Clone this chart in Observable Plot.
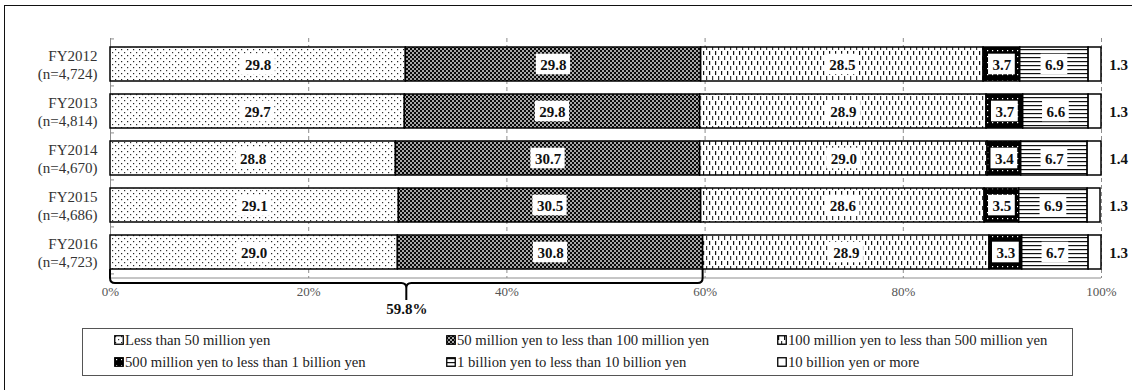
<!DOCTYPE html>
<html>
<head>
<meta charset="utf-8">
<script src="https://cdn.jsdelivr.net/npm/d3@7"></script>
<script src="https://cdn.jsdelivr.net/npm/@observablehq/plot@0.6"></script>
<style>
  html, body { margin: 0; padding: 0; background: #fff; overflow: hidden; }
  body { position: relative; width: 1132px; height: 390px; font-family: "Liberation Serif", "Times New Roman", serif; }
  #chart { position: absolute; left: 0; top: 0; }
  #frame { position: absolute; left: 4px; top: 5px; width: 1400px; height: 600px;
           border-top: 1.5px solid #111; border-left: 1.5px solid #111; pointer-events: none; }
  #legend { position: absolute; left: 82px; top: 328px; width: 989px; height: 46px;
            border: 1px solid #555; box-sizing: content-box; }
  .item { position: absolute; display: flex; align-items: center; font-size: 14.7px; color: #222;
          white-space: nowrap; line-height: 1; }
  .item svg { margin-right: 1px; }
</style>
</head>
<body>
<!-- fill patterns shared by the bars and the legend swatches -->
<svg width="0" height="0" style="position:absolute">
  <defs>
    <pattern id="pat-dots" width="6" height="6" patternUnits="userSpaceOnUse">
      <rect width="6" height="6" fill="#fff"/>
      <rect x="1" y="1" width="1.2" height="1.2" fill="#222"/>
      <rect x="4" y="4" width="1.2" height="1.2" fill="#333"/>
    </pattern>
    <pattern id="pat-check" width="4" height="4" patternUnits="userSpaceOnUse">
      <rect width="4" height="4" fill="#0a0a0a"/>
      <rect x="0.2" y="0.2" width="1.6" height="1.6" fill="#fff"/>
      <rect x="2.2" y="2.2" width="1.6" height="1.6" fill="#fff"/>
    </pattern>
    <pattern id="pat-vdash" width="6" height="10" patternUnits="userSpaceOnUse">
      <rect width="6" height="10" fill="#fff"/>
      <rect x="1" y="1" width="1.2" height="4" fill="#111"/>
      <rect x="4" y="6" width="1.2" height="4" fill="#333"/>
    </pattern>
    <pattern id="pat-blackdots" width="5" height="6" patternUnits="userSpaceOnUse">
      <rect width="5" height="6" fill="#000"/>
      <rect x="2" y="2" width="1.2" height="1.2" fill="#fff"/>
    </pattern>
    <pattern id="pat-hlines" width="6" height="4" patternUnits="userSpaceOnUse">
      <rect width="6" height="4" fill="#fff"/>
      <rect x="0" y="1" width="6" height="1.2" fill="#111"/>
    </pattern>
  </defs>
</svg>
<div id="chart"></div>
<div id="legend"></div>
<div id="frame"></div>
<script>
// Fiscal years and the number of responses in each survey
const years = ["FY2012", "FY2013", "FY2014", "FY2015", "FY2016"];
const sampleSizes = ["4,724", "4,814", "4,670", "4,686", "4,723"];

// Capital size bands (stack order, left to right)
const categories = [
  "Less than 50 million yen",
  "50 million yen to less than 100 million yen",
  "100 million yen to less than 500 million yen",
  "500 million yen to less than 1 billion yen",
  "1 billion yen to less than 10 billion yen",
  "10 billion yen or more"
];

// Share of companies (%) per band, one entry per fiscal year
const lessThan50M    = [29.8, 29.7, 28.8, 29.1, 29.0];
const from50Mto100M  = [29.8, 29.8, 30.7, 30.5, 30.8];
const from100Mto500M = [28.5, 28.9, 29.0, 28.6, 28.9];
const from500Mto1B   = [3.7, 3.7, 3.4, 3.5, 3.3];
const from1Bto10B    = [6.9, 6.6, 6.7, 6.9, 6.7];
const over10B        = [1.3, 1.3, 1.4, 1.3, 1.3];

// Axis ticks (%) and the bracketed FY2016 subtotal (first two bands)
const xTicks = [0, 20, 40, 60, 80, 100];
const bracketTotal = 59.8;

const seriesValues = [lessThan50M, from50Mto100M, from100Mto500M, from500Mto1B, from1Bto10B, over10B];
const patternFills = ["url(#pat-dots)", "url(#pat-check)", "url(#pat-vdash)",
                      "url(#pat-blackdots)", "url(#pat-hlines)", "#fff"];

const table = categories.flatMap((category, ci) =>
  years.map((year, yi) => ({year, category, value: seriesValues[ci][yi]})));
const lastCategory = categories[categories.length - 1];

const serif = "'Liberation Serif', 'Times New Roman', serif";
const width = 1132, height = 320;
const marginLeft = 110, marginRight = 31, marginTop = 38, marginBottom = 42;
const labelFont = `bold 15px ${serif}`;

// label positions: midpoint of each stacked segment, plus a white backing box
const ctx = document.createElement("canvas").getContext("2d");
ctx.font = labelFont;
const pxPerUnit = (width - marginLeft - marginRight) / 100;
const labels = [];
years.forEach((year, yi) => {
  let start = 0;
  categories.forEach((category, ci) => {
    const value = seriesValues[ci][yi];
    if (category !== lastCategory) {
      const text = value.toFixed(1);
      const half = (ctx.measureText(text).width + 8) / 2 / pxPerUnit;
      const mid = start + value / 2;
      labels.push({year, text, mid, x1: mid - half, x2: mid + half});
    }
    start += value;
  });
});

const plot = Plot.plot({
  width, height, marginLeft, marginRight, marginTop, marginBottom,
  style: {fontFamily: serif, background: "transparent", overflow: "visible"},
  x: {domain: [0, 100], label: null},
  y: {domain: years, range: [31.6, 284.5], padding: 0.28, axis: null},
  color: {type: "ordinal", domain: categories, range: patternFills},
  marks: [
    Plot.ruleX(xTicks.slice(1), {stroke: "#8c8c8c", strokeWidth: 1, strokeDasharray: "4,3"}),
    Plot.ruleX([0], {stroke: "#8c8c8c", strokeWidth: 1}),
    Plot.barX(table, {x: "value", y: "year", z: "category", fill: "category", stroke: "#000", strokeWidth: 1.5}),
    Plot.barX(labels, {x1: "x1", x2: "x2", y: "year", fill: "#fff", insetTop: 6.7, insetBottom: 6.7}),
    Plot.text(labels, {
      x: "mid", y: "year", text: "text", dy: 0.5,
      fontSize: 15, fontWeight: "bold", fill: "#111"
    }),
    Plot.text(table.filter(d => d.category === lastCategory), {
      x: () => 100, y: "year", dx: 17, dy: 0.5,
      text: d => d.value.toFixed(1),
      fontSize: 15, fontWeight: "bold", fill: "#111"
    }),
    Plot.text(years, {
      x: () => 0, y: d => d, dx: -13,
      text: (d, i) => `${d}\n(n=${sampleSizes[i]})`,
      textAnchor: "end", lineHeight: 1.2, fontSize: 15, fill: "#333"
    }),
    Plot.axisX({ticks: xTicks, tickFormat: d => d + "%", tickSize: 0, tickPadding: 8, fontSize: 13, color: "#555", label: null}),
    Plot.text([bracketTotal], {
      x: d => d / 2, frameAnchor: "bottom", dy: 35,
      text: d => d.toFixed(1) + "%",
      fontSize: 15, fontWeight: "bold", fill: "#111"
    })
  ]
});

document.getElementById("chart").appendChild(plot);

const svg = d3.select(plot);
const xs = plot.scale("x");
const ys = plot.scale("y");

// horizontal axis line
const axisY = height - marginBottom;
svg.append("line")
  .attr("x1", xs.apply(0)).attr("x2", xs.apply(100))
  .attr("y1", axisY).attr("y2", axisY)
  .attr("stroke", "#8c8c8c");

// small category ticks on the vertical axis
const step = ys.step;
years.concat([null]).forEach((year, i) => {
  const yy = (i < years.length ? ys.apply(year) : ys.apply(years[years.length - 1]) + step) - step * 0.28 / 2 - 1.5;
  svg.append("line")
    .attr("x1", xs.apply(0)).attr("x2", xs.apply(0) + 4)
    .attr("y1", yy).attr("y2", yy)
    .attr("stroke", "#8c8c8c");
});

// curly bracket under the first two FY2016 bands
const lastYear = years[years.length - 1];
const yb = ys.apply(lastYear) + ys.bandwidth;
const yh = 283, yt = 300;
const bx0 = xs.apply(0), bx1 = xs.apply(bracketTotal), tip = xs.apply(bracketTotal / 2);
const r = 5;
svg.append("path")
  .attr("fill", "none").attr("stroke", "#000").attr("stroke-width", 2)
  .attr("d", `M${bx0},${yb} L${bx0},${yh - r} Q${bx0},${yh} ${bx0 + r},${yh} L${tip - r},${yh}
              Q${tip},${yh} ${tip},${yh + r} L${tip},${yt}
              M${tip},${yh + r} Q${tip},${yh} ${tip + r},${yh} L${bx1 - r},${yh}
              Q${bx1},${yh} ${bx1},${yh - r} L${bx1},${yb}`);

// legend: two rows of three entries
const legend = d3.select("#legend");
const colX = [31, 363, 694];
const rowY = [12, 34];
categories.forEach((c, i) => {
  const item = legend.append("div").attr("class", "item")
    .style("left", colX[i % 3] + "px")
    .style("top", (rowY[Math.floor(i / 3)] - 8) + "px");
  const sw = item.append("svg").attr("width", 10).attr("height", 10);
  sw.append("rect").attr("x", 0.75).attr("y", 0.75).attr("width", 8.5).attr("height", 8.5)
    .attr("fill", patternFills[i]).attr("stroke", "#000").attr("stroke-width", 1.3);
  item.append("span").text(c);
});
</script>
</body>
</html>
